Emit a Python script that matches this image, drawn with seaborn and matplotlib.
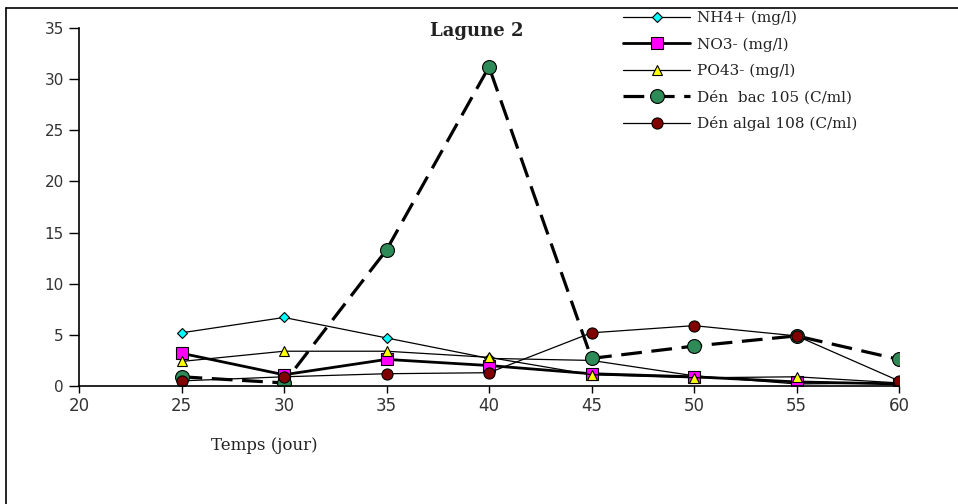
import matplotlib
matplotlib.use("Agg")
import matplotlib.pyplot as plt
import seaborn as sns
from matplotlib.lines import Line2D

# Sampling days
jours = [25, 30, 35, 40, 45, 50, 55, 60]

# Measured series
nh4 = [5.2, 6.7, 4.7, 2.7, 2.5, 1.0, 0.2, 0.3]
no3 = [3.2, 1.1, 2.6, 2.0, 1.2, 0.9, 0.4, 0.2]
po4 = [2.4, 3.4, 3.4, 2.8, 1.1, 0.8, 0.9, 0.3]
den_bac = [0.9, 0.3, 13.3, 31.2, 2.7, 3.9, 4.9, 2.6]
den_algal = [0.5, 0.9, 1.2, 1.3, 5.2, 5.9, 4.9, 0.5]

labels = ["NH4+ (mg/l)", "NO3- (mg/l)", "PO43- (mg/l)",
          "Dén  bac 105 (C/ml)", "Dén algal 108 (C/ml)"]
x_ticks = [20, 25, 30, 35, 40, 45, 50, 55, 60]
y_ticks = [0, 5, 10, 15, 20, 25, 30, 35]

sns.set_theme(style="white")
plt.rcParams["font.family"] = ["DejaVu Serif", "Liberation Serif"]

fig = plt.figure(figsize=(9.58, 5.04), dpi=100)
ax = fig.add_axes([79 / 958, 1 - 386 / 504, 820 / 958, 358 / 504])

styles = [
    dict(y=nh4, marker="D", color="#00ffff", ms=5, lw=0.9, ls="-"),
    dict(y=no3, marker="s", color="#ff00ff", ms=8, lw=2.0, ls="-"),
    dict(y=po4, marker="^", color="#ffff00", ms=7, lw=0.9, ls="-"),
    dict(y=den_bac, marker="o", color="#2e8b57", ms=10, lw=2.3, ls=(0, (6.5, 3))),
    dict(y=den_algal, marker="o", color="#800000", ms=8, lw=0.9, ls="-"),
]

handles = []
for st, lab in zip(styles, labels):
    sns.lineplot(x=jours, y=st["y"], ax=ax, color="black", lw=st["lw"],
                 linestyle=st["ls"], marker=st["marker"], markersize=st["ms"],
                 markerfacecolor=st["color"], markeredgecolor="black",
                 markeredgewidth=0.8, legend=False)
    handles.append(Line2D([], [], color="black", lw=st["lw"], linestyle=st["ls"],
                          marker=st["marker"], markersize=st["ms"],
                          markerfacecolor=st["color"], markeredgecolor="black",
                          markeredgewidth=0.8))

ax.set_xlim(20, 60)
ax.set_ylim(0, 35)
ax.set_xticks(x_ticks)
ax.set_yticks(y_ticks)
ax.tick_params(axis="both", direction="out", width=1, color="black",
               labelcolor="#333333", bottom=True, left=True)
ax.tick_params(axis="y", length=7, pad=4, labelsize=11)
ax.tick_params(axis="x", length=5, pad=3, labelsize=12)
for lab in ax.get_xticklabels() + ax.get_yticklabels():
    lab.set_fontfamily("DejaVu Sans")
for side in ["top", "right"]:
    ax.spines[side].set_visible(False)
for side in ["left", "bottom"]:
    ax.spines[side].set_color("black")
    ax.spines[side].set_linewidth(1.2)
ax.set_xlabel("")
ax.set_ylabel("")

fig.text(477 / 958, 1 - 31 / 504, "Lagune 2", ha="center", va="center",
         fontsize=13, fontweight="bold", color="#222222")
fig.text(264 / 958, 1 - 445 / 504, "Temps (jour)", ha="center", va="center",
         fontsize=12, color="#222222")

leg = fig.legend(handles, labels, loc="upper left",
                 bbox_to_anchor=(623 / 958, 1 - 11 / 504), frameon=False,
                 fontsize=11, handlelength=4.4, handletextpad=0.45,
                 labelspacing=0.78, borderaxespad=0, borderpad=0)
for t in leg.get_texts():
    t.set_color("#222222")

# outer frame of the figure
fig.add_artist(Line2D([6 / 958, 1], [1 - 8 / 504, 1 - 8 / 504],
                      transform=fig.transFigure, color="black", lw=1.2))
fig.add_artist(Line2D([6 / 958, 6 / 958], [0, 1 - 8 / 504],
                      transform=fig.transFigure, color="black", lw=1.2))

fig.savefig("out.png", dpi=100)
